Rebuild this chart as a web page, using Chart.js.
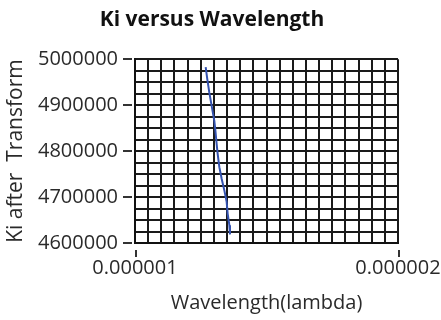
<!DOCTYPE html>
<html>
<head>
<meta charset="utf-8">
<script src="https://cdn.jsdelivr.net/npm/chart.js@4/dist/chart.umd.min.js"></script>
<style>
  html, body { margin: 0; padding: 0; background: #fff; }
  #wrap { width: 441px; height: 320px; }
</style>
</head>
<body>
<div id="wrap"><canvas id="myChart" width="441" height="320"></canvas></div>
<script>
// values
const wavelength = [1.2687e-6, 1.2750e-6, 1.2826e-6, 1.2915e-6, 1.3016e-6, 1.3055e-6, 1.3105e-6, 1.3143e-6,
                    1.3207e-6, 1.3295e-6, 1.3397e-6, 1.3485e-6, 1.3523e-6, 1.3587e-6, 1.3612e-6];
const kiValues = [4982700, 4956000, 4927200, 4898400, 4866000, 4845800, 4815500, 4793900,
                  4765000, 4739800, 4714600, 4689400, 4664100, 4638900, 4618700];
const xTickLabels = [1e-6, 2e-6];
const yTickLabels = [4600000, 4700000, 4800000, 4900000, 5000000];

const FONT = "'Open Sans', sans-serif";
const TEXT = '#2a2a2a';

// small dashes outside the plot at the labelled ticks
const tickMarks = {
  id: 'tickMarks',
  afterDraw(c) {
    const ctx = c.ctx, xs = c.scales.x, ys = c.scales.y;
    ctx.save();
    ctx.strokeStyle = '#333';
    ctx.lineWidth = 2;
    yTickLabels.forEach(v => {
      const y = Math.round(ys.getPixelForValue(v));
      ctx.beginPath();
      ctx.moveTo(xs.left - 12, y);
      ctx.lineTo(xs.left - 3, y);
      ctx.stroke();
    });
    xTickLabels.forEach(v => {
      const x = Math.round(xs.getPixelForValue(v)) + 1;
      ctx.beginPath();
      ctx.moveTo(x, ys.bottom + 7);
      ctx.lineTo(x, ys.bottom + 14);
      ctx.stroke();
    });
    ctx.restore();
  }
};

const points = wavelength.map((w, i) => ({ x: w, y: kiValues[i] }));

new Chart(document.getElementById('myChart').getContext('2d'), {
  type: 'scatter',
  data: {
    datasets: [{
      data: points,
      showLine: true,
      borderColor: '#3352b0',
      borderWidth: 2,
      pointRadius: 0,
      fill: false
    }]
  },
  plugins: [tickMarks],
  options: {
    responsive: false,
    animation: false,
    layout: { padding: { left: 0, right: 17, top: 7, bottom: 0 } },
    plugins: {
      legend: { display: false },
      tooltip: { enabled: false },
      title: {
        display: true,
        text: 'Ki versus Wavelength',
        color: '#111',
        font: { family: FONT, size: 21, weight: 'bold' },
        padding: { top: 0, bottom: 27 }
      }
    },
    scales: {
      x: {
        type: 'linear',
        min: 1e-6,
        max: 2e-6,
        afterFit: s => { s.height = 77; s.paddingRight = 43; s.paddingLeft = 0; },
        afterBuildTicks: s => {
          const t = [];
          for (let i = 0; i <= 20; i++) t.push({ value: 1e-6 + i * 5e-8 });
          s.ticks = t;
        },
        ticks: {
          color: TEXT,
          font: { family: FONT, size: 20 },
          padding: 13,
          maxRotation: 0,
          autoSkip: false,
          callback: (v, i) => (i === 0 ? '0.000001' : i === 20 ? '0.000002' : '')
        },
        grid: { color: '#1a1a1a', lineWidth: 2, drawTicks: false },
        border: { display: true, color: '#111', width: 2 },
        title: {
          display: true,
          text: 'Wavelength(lambda)',
          color: TEXT,
          font: { family: FONT, size: 20 },
          padding: { top: 0, bottom: 5 }
        }
      },
      y: {
        min: 4600000,
        max: 5000000,
        afterFit: s => { s.width = 135; },
        afterBuildTicks: s => {
          const t = [];
          for (let i = 0; i <= 16; i++) t.push({ value: 4600000 + i * 25000 });
          s.ticks = t;
        },
        ticks: {
          color: TEXT,
          font: { family: FONT, size: 20 },
          padding: 17,
          autoSkip: false,
          callback: v => (yTickLabels.includes(v) ? String(v) : '')
        },
        grid: { color: '#1a1a1a', lineWidth: 2, drawTicks: false },
        border: { display: true, color: '#111', width: 2 },
        title: {
          display: true,
          text: 'Ki after  Transform',
          color: TEXT,
          font: { family: FONT, size: 21 },
          padding: { top: 3, bottom: 0 }
        }
      }
    }
  }
});
</script>
</body>
</html>
